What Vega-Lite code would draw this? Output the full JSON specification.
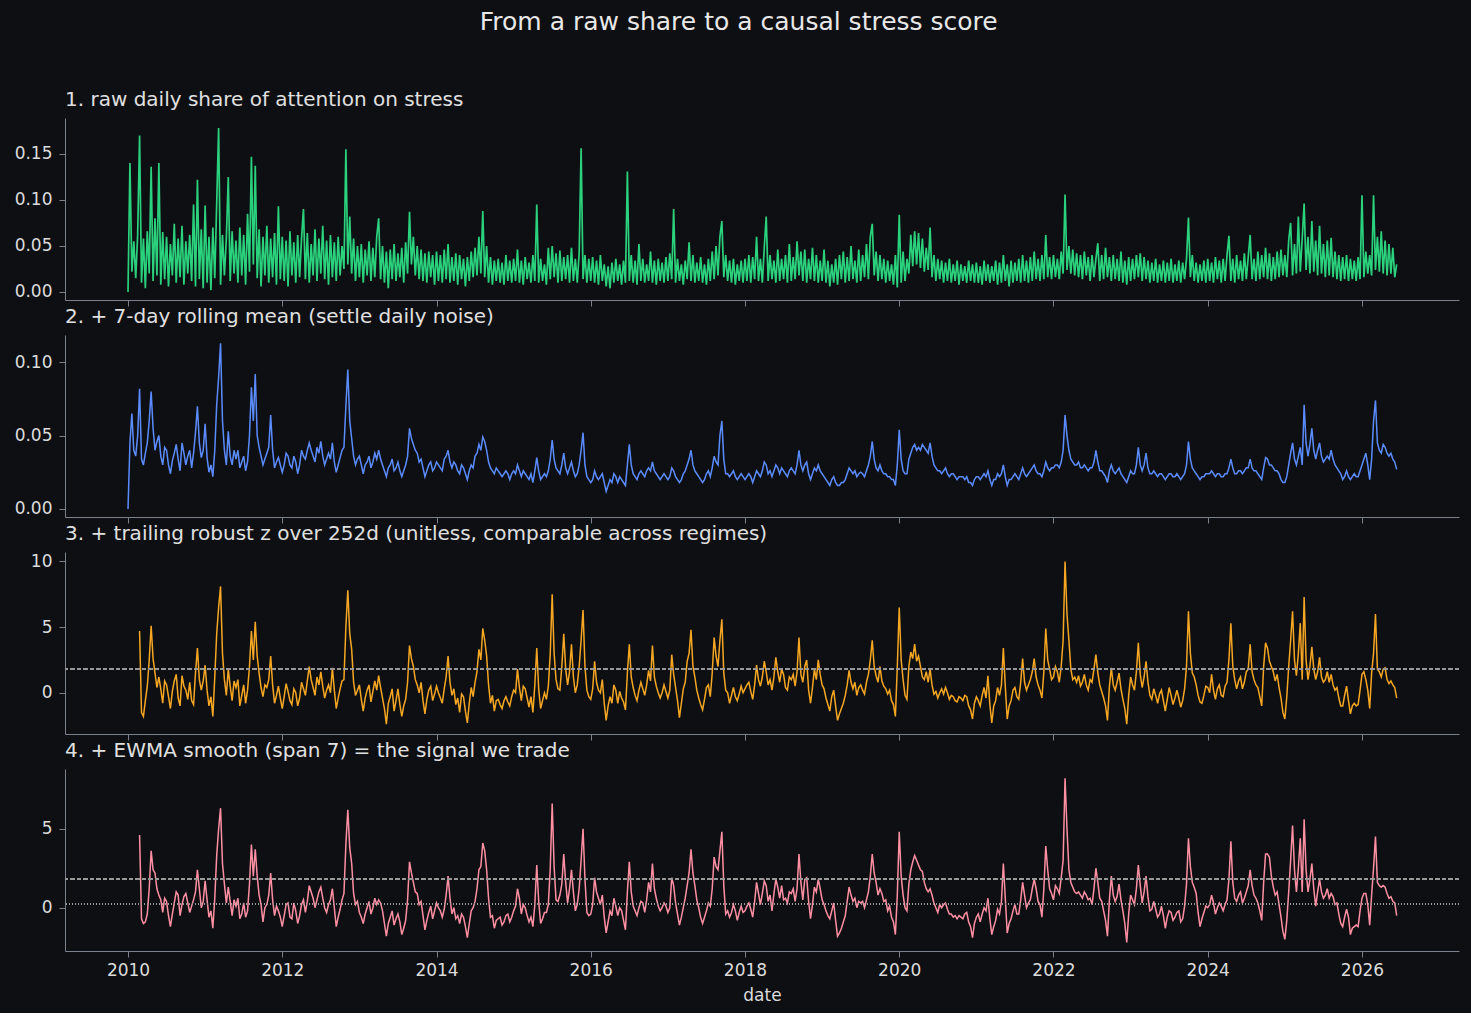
{
"$schema":"https://vega.github.io/schema/vega-lite/v6.json",
"background":"#0e0f12",
"padding":{"left":10,"right":12,"top":10,"bottom":10},
"title":{"text":"From a raw share to a causal stress score","fontSize":25,"anchor":"middle","color":"#e8e8e8","fontWeight":"normal","offset":56,"frame":"bounds","dx":4,"dy":1},
"data":{"values":"x,m,z,s\n2010,0,,\n2010.025,.045,,\n2010.05,.065,,\n2010.075,.04,,\n2010.1,.036,,\n2010.125,.05,,\n2010.15,.082,4.7,4.6\n2010.175,.034,-1.5,-.7\n2010.2,.03,-1.8,-1.0\n2010.225,.038,-.6,-.9\n2010.25,.045,.5,-.4\n2010.275,.06,2.5,1.2\n2010.3,.08,5.1,3.6\n2010.325,.055,2.6,2.4\n2010.35,.04,1.5,2.2\n2010.375,.046,.4,1.2\n2010.4,.05,1.2,.8\n2010.425,.036,.3,.5\n2010.45,.03,-.8,-.3\n2010.475,.042,.9,.6\n2010.5,.04,.6,.4\n2010.525,.03,-.3,-.5\n2010.55,.024,-1.2,-1.2\n2010.575,.033,.1,-.4\n2010.6,.038,.9,.3\n2010.625,.044,1.4,1.0\n2010.65,.034,-.4,.8\n2010.675,.026,-1.0,-.5\n2010.7,.045,1.3,.2\n2010.725,.038,.5,.7\n2010.75,.03,.2,.9\n2010.775,.036,-.5,.3\n2010.8,.04,.8,-.3\n2010.825,.028,-.6,.1\n2010.85,.038,-.9,.5\n2010.875,.052,1.5,1.0\n2010.9,.07,3.4,2.4\n2010.925,.045,1.0,1.2\n2010.95,.035,.2,0\n2010.975,.04,.9,.4\n2011,.058,2.1,1.7\n2011.025,.035,.2,.5\n2011.05,.025,-1,-.6\n2011.075,.03,-.3,-.2\n2011.1,.022,-1.8,-1.3\n2011.125,.04,1.2,.6\n2011.15,.071,4.5,3.3\n2011.175,.09,6.5,5.0\n2011.2,.113,8.1,6.3\n2011.225,.06,3.0,2.8\n2011.25,.04,1,1.5\n2011.275,.03,-.2,.3\n2011.3,.053,1.8,1.3\n2011.325,.036,.5,.4\n2011.35,.03,-.6,-.5\n2011.375,.04,.9,.5\n2011.4,.034,.4,.1\n2011.425,.04,1.0,.6\n2011.45,.028,-1,-.7\n2011.475,.032,-.2,-.4\n2011.5,.036,.6,.3\n2011.525,.026,-.8,-.6\n2011.55,.032,.2,-.2\n2011.575,.05,2.0,1.5\n2011.6,.083,4.7,4\n2011.625,.06,2.5,2.0\n2011.65,.092,5.4,3.7\n2011.675,.05,2.8,2.0\n2011.7,.042,1.5,.8\n2011.725,.036,.4,.2\n2011.75,.03,-.3,-.9\n2011.775,.034,.6,.0\n2011.8,.038,.4,.2\n2011.825,.042,1.0,.8\n2011.85,.064,2.8,2.2\n2011.875,.04,.6,.5\n2011.9,.028,-.8,-.5\n2011.925,.032,-.2,.1\n2011.95,.035,.5,-.2\n2011.975,.03,-.4,-.6\n2012,.025,-1.2,-1.2\n2012.025,.03,-.3,-.5\n2012.05,.038,.7,.2\n2012.075,.036,.1,.3\n2012.1,.03,-.6,-.6\n2012.125,.028,-.9,-.7\n2012.15,.036,.3,.3\n2012.175,.032,.0,-.2\n2012.2,.024,-1,-1\n2012.225,.03,-.4,-.5\n2012.25,.04,.8,.2\n2012.275,.036,.3,.5\n2012.3,.034,-.2,-.3\n2012.325,.04,.9,.4\n2012.35,.045,2,1.4\n2012.375,.04,1.0,1.0\n2012.4,.036,.4,.6\n2012.425,.032,-.2,.0\n2012.45,.042,1.2,.5\n2012.475,.038,.6,1.0\n2012.5,.046,1.6,1.3\n2012.525,.036,.5,.6\n2012.55,.03,-.4,0\n2012.575,.034,.2,-.3\n2012.6,.038,.6,.2\n2012.625,.034,.0,.5\n2012.65,.045,1.9,1.2\n2012.675,.032,.2,.0\n2012.7,.025,-1.2,-1.2\n2012.725,.03,-.4,-.6\n2012.75,.035,.3,-.1\n2012.775,.04,.9,.5\n2012.8,.042,1,.9\n2012.825,.07,5.0,4.0\n2012.85,.095,7.8,6.2\n2012.875,.06,4.5,3.8\n2012.9,.048,3.3,2.8\n2012.925,.036,.8,.9\n2012.95,.03,-.2,.2\n2012.975,.034,.2,.4\n2013,.036,.6,-.3\n2013.025,.03,-.5,-.6\n2013.05,.024,-1.4,-1\n2013.075,.03,-.4,-.4\n2013.1,.032,.2,0\n2013.125,.036,.6,.4\n2013.15,.028,-.7,-.4\n2013.175,.032,.1,.0\n2013.2,.038,.9,.6\n2013.225,.034,.2,.2\n2013.25,.04,1.3,.5\n2013.275,.034,.4,.3\n2013.3,.03,-.4,-.2\n2013.325,.026,-1.2,-1.0\n2013.35,.022,-2.4,-1.8\n2013.375,.028,-.8,-1.0\n2013.4,.03,-.3,-.6\n2013.425,.034,.3,-.2\n2013.45,.026,-1.4,-1.1\n2013.475,.028,-.6,-.7\n2013.5,.032,.3,-.4\n2013.525,.026,-.9,-.9\n2013.55,.022,-1.8,-1.7\n2013.575,.026,-1.0,-1.3\n2013.6,.03,-.5,-.8\n2013.625,.036,.8,.5\n2013.65,.055,3.6,2.9\n2013.675,.048,2.6,2.2\n2013.7,.044,2,1.6\n2013.725,.04,1.0,1.0\n2013.75,.038,.6,.9\n2013.775,.032,.0,.2\n2013.8,.034,.8,.4\n2013.825,.028,-.6,-.5\n2013.85,.022,-1.6,-1.4\n2013.875,.026,-.5,-.8\n2013.9,.03,.2,-.3\n2013.925,.032,.5,.1\n2013.95,.026,-.6,-.7\n2013.975,.028,-.1,-.2\n2014,.032,.5,.3\n2014.025,.03,.0,.0\n2014.05,.028,-.4,-.2\n2014.075,.026,-.8,-.6\n2014.1,.034,.3,-.1\n2014.125,.036,1.2,.8\n2014.15,.04,2.8,2\n2014.175,.032,.8,.6\n2014.2,.028,-.2,-.4\n2014.225,.032,.3,.0\n2014.25,.03,-.9,-.7\n2014.275,.026,-.4,-.5\n2014.3,.024,-1.5,-1\n2014.325,.03,-.1,-.4\n2014.35,.028,-.3,-.6\n2014.375,.024,-1.4,-1.2\n2014.4,.02,-2.3,-1.9\n2014.425,.026,-.8,-1.0\n2014.45,.03,.4,-.2\n2014.475,.028,-.3,.0\n2014.5,.036,.8,.4\n2014.525,.038,1.6,1.2\n2014.55,.044,3.3,2.4\n2014.575,.04,2.5,2.6\n2014.6,.049,4.9,4.1\n2014.625,.046,4.0,3.6\n2014.65,.04,2.8,2.4\n2014.675,.032,.6,.6\n2014.7,.028,-.8,-.6\n2014.725,.026,-.2,-.5\n2014.75,.024,-1.4,-1.3\n2014.775,.028,-.6,-.8\n2014.8,.026,-.5,-.7\n2014.825,.024,-.9,-.6\n2014.85,.022,-1.2,-1.1\n2014.875,.024,-.6,-.9\n2014.9,.026,-.3,-.5\n2014.925,.024,-.7,-.4\n2014.95,.02,-1,-.9\n2014.975,.024,-.3,-.6\n2015,.026,.2,-.2\n2015.025,.024,.0,.1\n2015.05,.03,1.8,1.2\n2015.075,.026,.4,.6\n2015.1,.022,-.6,-.4\n2015.125,.026,.5,.2\n2015.15,.024,.3,0\n2015.175,.022,-.4,-.5\n2015.2,.02,-1.1,-.9\n2015.225,.024,-.3,-.6\n2015.25,.018,-1.5,-1.2\n2015.275,.026,.6,.2\n2015.3,.035,3.4,2.7\n2015.325,.026,.3,.4\n2015.35,.02,-1.2,-1\n2015.375,.022,-.6,-.7\n2015.4,.024,0,-.3\n2015.425,.022,-.5,-.3\n2015.45,.026,.5,.2\n2015.475,.034,3.0,2.5\n2015.5,.047,7.5,6.6\n2015.525,.034,3.0,2.6\n2015.55,.028,1,.5\n2015.575,.026,.3,.4\n2015.6,.024,.2,.8\n2015.625,.03,2.0,1.5\n2015.65,.038,4.5,3.4\n2015.675,.028,1.8,1.6\n2015.7,.024,.6,.3\n2015.725,.028,1.6,1.2\n2015.75,.032,3.7,2.4\n2015.775,.026,1.2,1.0\n2015.8,.022,0,-.2\n2015.825,.024,.6,.2\n2015.85,.03,2,1.2\n2015.875,.04,4.0,3.0\n2015.9,.052,6.3,5\n2015.925,.03,2.0,1.8\n2015.95,.022,.2,-.3\n2015.975,.02,-.3,-.5\n2016,.018,-.5,-.4\n2016.025,.02,.3,.2\n2016.05,.026,2.4,1.9\n2016.075,.022,.8,1.0\n2016.1,.02,.2,.6\n2016.125,.022,.0,.2\n2016.15,.024,1,.8\n2016.175,.018,-.8,-.6\n2016.2,.012,-2.1,-1.6\n2016.225,.016,-1.0,-.9\n2016.25,.02,-.3,-.2\n2016.275,.018,-.8,-.5\n2016.3,.024,.6,.6\n2016.325,.022,.2,.1\n2016.35,.018,-.8,-.5\n2016.375,.022,.1,.0\n2016.4,.02,-.4,-.2\n2016.425,.018,-.7,-.8\n2016.45,.016,-1.3,-1.4\n2016.475,.03,1.5,1.0\n2016.5,.044,3.7,2.9\n2016.525,.03,1.2,1.0\n2016.55,.024,.4,.1\n2016.575,.022,-.2,-.2\n2016.6,.02,-.6,-.5\n2016.625,.024,.2,.0\n2016.65,.026,.8,.4\n2016.675,.024,.3,.3\n2016.7,.022,-.2,-.3\n2016.725,.026,.6,.5\n2016.75,.028,1.7,1.6\n2016.775,.026,.9,1.0\n2016.8,.032,3.6,2.8\n2016.825,.026,1.2,1.2\n2016.85,.024,.5,.6\n2016.875,.022,.0,.1\n2016.9,.02,-.4,-.2\n2016.925,.022,.0,.0\n2016.95,.024,.6,.3\n2016.975,.022,.1,.1\n2017,.02,-.4,-.3\n2017.025,.022,.2,.0\n2017.05,.028,2.9,1.9\n2017.075,.026,1.4,1.4\n2017.1,.022,.4,.3\n2017.125,.02,-.6,-.4\n2017.15,.018,-1.9,-1.1\n2017.175,.02,-.8,-.6\n2017.2,.024,.3,0\n2017.225,.026,.8,.6\n2017.25,.03,2.4,1.4\n2017.275,.034,3.0,2.2\n2017.3,.04,4.8,3.7\n2017.325,.03,2.0,2.2\n2017.35,.026,1.2,1.4\n2017.375,.024,.2,.5\n2017.4,.022,-.4,0\n2017.425,.02,-.9,-.6\n2017.45,.018,-1.3,-1\n2017.475,.02,-.5,-.6\n2017.5,.024,.4,-.2\n2017.525,.026,.6,.3\n2017.55,.022,-.3,.1\n2017.575,.028,1.5,1.2\n2017.6,.036,4.2,3.2\n2017.625,.032,2.8,2.6\n2017.65,.03,2,2.4\n2017.675,.05,4.0,3.6\n2017.7,.06,5.6,4.8\n2017.725,.034,1.5,1.4\n2017.75,.024,.2,-.4\n2017.775,.024,.0,-.2\n2017.8,.022,-.8,-.6\n2017.825,.024,-.2,-.3\n2017.85,.026,.4,.2\n2017.875,.022,-.3,-.2\n2017.9,.02,-.6,-.8\n2017.925,.022,-.1,-.3\n2017.95,.024,.5,.1\n2017.975,.022,.0,-.3\n2018,.02,.3,-.2\n2018.025,.022,.6,.1\n2018.05,.024,.8,.3\n2018.075,.022,.1,-.1\n2018.1,.018,-.5,-.6\n2018.125,.022,.6,.4\n2018.15,.026,2.1,1.6\n2018.175,.024,1.0,.9\n2018.2,.022,.5,.2\n2018.225,.026,1.2,.9\n2018.25,.032,2.4,1.7\n2018.275,.03,1.6,1.4\n2018.3,.024,.6,.4\n2018.325,.026,1.0,.8\n2018.35,.022,.2,-.2\n2018.375,.026,1.2,.9\n2018.4,.03,2.7,1.8\n2018.425,.028,1.6,1.3\n2018.45,.024,.8,.6\n2018.475,.028,1.8,1.4\n2018.5,.026,1.4,.5\n2018.525,.024,.4,.6\n2018.55,.022,.2,.3\n2018.575,.026,1.2,1.0\n2018.6,.028,1,.9\n2018.625,.026,1.4,1.2\n2018.65,.024,.5,.4\n2018.675,.03,1.6,1.2\n2018.7,.04,4.2,3.4\n2018.725,.03,1.4,1.6\n2018.75,.026,.8,.5\n2018.775,.03,2.0,1.8\n2018.8,.032,2.5,1.9\n2018.825,.024,.2,.4\n2018.85,.02,-.8,-.7\n2018.875,.024,.4,.2\n2018.9,.028,1.8,1.3\n2018.925,.026,1.0,1.0\n2018.95,.03,2.5,1.8\n2018.975,.026,1.4,1.2\n2019,.024,.6,.5\n2019.025,.022,.3,.2\n2019.05,.02,-.4,-.2\n2019.075,.018,-.9,-.5\n2019.1,.016,-1.4,-.7\n2019.125,.02,-.3,-.2\n2019.15,.022,.2,.3\n2019.175,.018,-1.0,-.8\n2019.2,.016,-2.1,-1.8\n2019.225,.016,-1.6,-1.6\n2019.25,.018,-1.2,-1.3\n2019.275,.018,-.8,-.9\n2019.3,.02,-.2,-.5\n2019.325,.024,.6,.4\n2019.35,.028,1.7,1.3\n2019.375,.026,.8,.8\n2019.4,.024,.3,.4\n2019.425,.026,.8,.6\n2019.45,.022,-.2,0\n2019.475,.024,.4,.4\n2019.5,.025,.6,.3\n2019.525,.024,.2,.4\n2019.55,.022,-.1,0\n2019.575,.026,.8,.5\n2019.6,.03,1.4,1\n2019.625,.036,2.5,2.0\n2019.65,.046,4,3.4\n2019.675,.034,2.0,2.2\n2019.7,.028,1.3,1.6\n2019.725,.026,.8,.8\n2019.75,.03,2,1.2\n2019.775,.026,.9,.9\n2019.8,.024,.5,.4\n2019.825,.024,.3,.5\n2019.85,.022,-.1,-.2\n2019.875,.022,.2,.1\n2019.9,.02,-.6,-.6\n2019.925,.02,-.9,-.9\n2019.95,.016,-1.8,-1.7\n2019.975,.03,2.0,.8\n2020,.054,6.5,4.8\n2020.025,.034,2.5,2.0\n2020.05,.026,1,.8\n2020.075,.024,-.2,.0\n2020.1,.024,-.5,-.2\n2020.125,.034,2.0,1.5\n2020.15,.038,3.1,2.4\n2020.175,.042,2.6,2.9\n2020.2,.044,3.7,3.3\n2020.225,.04,2.4,3.0\n2020.25,.042,2.8,2.7\n2020.275,.04,2.0,2.4\n2020.3,.044,1.2,2.3\n2020.325,.042,1.0,1.6\n2020.35,.04,1.6,1.2\n2020.375,.038,.8,1.0\n2020.4,.045,1.8,1.2\n2020.425,.036,.6,.8\n2020.45,.03,-.1,.3\n2020.475,.028,.1,.0\n2020.5,.026,-.4,-.3\n2020.525,.026,.0,.2\n2020.55,.024,.3,0\n2020.575,.026,-.1,.2\n2020.6,.028,.4,.3\n2020.625,.024,.0,-.1\n2020.65,.022,-.5,-.4\n2020.675,.024,-.2,-.4\n2020.7,.024,-.3,-.6\n2020.725,.022,-.6,-.5\n2020.75,.02,-.7,-.7\n2020.775,.022,-.3,-.5\n2020.8,.022,-.4,-.6\n2020.825,.022,-.6,-.7\n2020.85,.02,-.2,-.4\n2020.875,.022,-.3,-.3\n2020.9,.018,-1,-.9\n2020.925,.018,-1.3,-1.2\n2020.95,.016,-2,-1.9\n2020.975,.02,-.8,-1.0\n2021,.022,-.3,-.6\n2021.025,.022,-.6,-.4\n2021.05,.02,-1,-.9\n2021.075,.022,-.2,-.4\n2021.1,.024,.4,0\n2021.125,.022,-.4,-.2\n2021.15,.026,1.3,.6\n2021.175,.02,-.9,-.7\n2021.2,.016,-2.3,-1.7\n2021.225,.02,-1.0,-1.2\n2021.25,.02,-.6,-.8\n2021.275,.024,.4,-.1\n2021.3,.022,-.2,-.4\n2021.325,.024,.6,.4\n2021.35,.03,3.4,2.8\n2021.375,.022,.5,.6\n2021.4,.016,-2,-1.6\n2021.425,.02,-1.0,-1.0\n2021.45,.02,-.6,-.7\n2021.475,.022,.2,-.2\n2021.5,.024,.4,.2\n2021.525,.022,-.3,-.4\n2021.55,.02,-.5,-.4\n2021.575,.024,.8,.5\n2021.6,.028,2.6,1.6\n2021.625,.024,.8,.8\n2021.65,.022,.2,0\n2021.675,.024,.6,.3\n2021.7,.026,1,.5\n2021.725,.028,1.6,1.2\n2021.75,.03,2.6,1.8\n2021.775,.026,1.2,1.2\n2021.8,.024,.6,.4\n2021.825,.024,.2,.2\n2021.85,.022,-.4,-.6\n2021.875,.026,1.6,1.2\n2021.9,.032,4.9,3.9\n2021.925,.028,2.5,2.4\n2021.95,.026,1.8,1.2\n2021.975,.028,1.0,.9\n2022,.028,1.2,.5\n2022.025,.03,2.0,1.4\n2022.05,.03,1.6,1.2\n2022.075,.028,.8,.9\n2022.1,.032,2,1.9\n2022.125,.04,4.0,3.0\n2022.15,.064,10,8.2\n2022.175,.05,6.0,5.0\n2022.2,.04,4,2.4\n2022.225,.034,1.8,1.6\n2022.25,.032,1,1.3\n2022.275,.03,1.2,1.0\n2022.3,.03,.8,.9\n2022.325,.032,1.3,1.0\n2022.35,.028,.5,.8\n2022.375,.028,.8,.6\n2022.4,.03,1.4,1\n2022.425,.028,.6,.8\n2022.45,.026,.2,.5\n2022.475,.028,1.0,.6\n2022.5,.028,.8,.2\n2022.525,.032,1.8,1.2\n2022.55,.04,2.9,2.5\n2022.575,.032,1.5,1.6\n2022.6,.026,.6,.6\n2022.625,.026,.1,.4\n2022.65,.024,-.4,-.2\n2022.675,.022,-1.0,-.8\n2022.7,.018,-2.1,-1.8\n2022.725,.026,.5,.5\n2022.75,.03,1.9,2\n2022.775,.026,.6,.8\n2022.8,.024,.2,.4\n2022.825,.026,.8,.7\n2022.85,.028,1.5,1.5\n2022.875,.024,.3,.5\n2022.9,.022,-.5,-.2\n2022.925,.02,-1.2,-1.0\n2022.95,.018,-2.4,-2.2\n2022.975,.022,-.2,-.4\n2023,.026,1.2,.8\n2023.025,.024,.6,.5\n2023.05,.024,.2,.2\n2023.075,.03,1.6,1.2\n2023.1,.042,3.8,2.7\n2023.125,.03,1.4,1.4\n2023.15,.026,.4,.3\n2023.175,.03,1.2,1.0\n2023.2,.038,2.4,2\n2023.225,.028,.8,.7\n2023.25,.024,-.2,-.2\n2023.275,.024,-.5,-.1\n2023.3,.026,.3,.4\n2023.325,.024,-.2,-.1\n2023.35,.022,-.8,-.6\n2023.375,.024,-.1,-.4\n2023.4,.024,.2,.1\n2023.425,.022,-.6,-.5\n2023.45,.02,-1.4,-1.3\n2023.475,.022,-.5,-.6\n2023.5,.024,.4,-.2\n2023.525,.024,-.2,-.3\n2023.55,.022,-.9,-.8\n2023.575,.022,-.4,-.6\n2023.6,.024,.2,-.3\n2023.625,.022,-.4,-.2\n2023.65,.02,-1.1,-.9\n2023.675,.022,-.6,-.7\n2023.7,.024,.3,.1\n2023.725,.03,2.0,1.5\n2023.75,.046,6.2,4.4\n2023.775,.034,3.0,2.6\n2023.8,.028,1.5,1.6\n2023.825,.026,1.2,1.3\n2023.85,.024,.6,.9\n2023.875,.022,-.2,-.3\n2023.9,.02,-.7,-1.2\n2023.925,.022,-.8,-.7\n2023.95,.022,-.2,-.3\n2023.975,.024,.5,.1\n2024,.024,.4,0\n2024.025,.024,.0,.2\n2024.05,.026,1.4,.8\n2024.075,.024,.2,.3\n2024.1,.022,-.5,-.4\n2024.125,.024,.3,.0\n2024.15,.024,.6,.3\n2024.175,.022,-.2,.1\n2024.2,.022,-.3,-.2\n2024.225,.024,.5,.2\n2024.25,.024,.8,.5\n2024.275,.028,2.5,1.8\n2024.3,.034,5.3,4.2\n2024.325,.028,2.0,1.6\n2024.35,.024,1,.6\n2024.375,.024,.3,.4\n2024.4,.026,.9,.8\n2024.425,.026,1.2,1.0\n2024.45,.024,.3,.3\n2024.475,.026,.8,.6\n2024.5,.028,1.6,1\n2024.525,.028,1.8,1.4\n2024.55,.034,3.7,2.4\n2024.575,.028,1.6,1.4\n2024.6,.026,1,.8\n2024.625,.026,.6,.6\n2024.65,.024,.4,.3\n2024.675,.022,-.3,-.2\n2024.7,.02,-1,-.8\n2024.725,.028,2.0,1.6\n2024.75,.035,3.8,3.4\n2024.775,.034,3.4,3.4\n2024.8,.03,2.4,3.2\n2024.825,.03,2.0,2.0\n2024.85,.028,1.6,1.3\n2024.875,.026,.9,.8\n2024.9,.026,1.4,1\n2024.925,.024,.4,.2\n2024.95,.02,-.4,-.6\n2024.975,.018,-1.5,-1.5\n2025,.018,-2,-2\n2025.025,.022,-.3,-.8\n2025.05,.03,2,1\n2025.075,.038,4.0,3.0\n2025.1,.045,6.2,5.2\n2025.125,.034,2.5,2.4\n2025.15,.03,1.3,1\n2025.175,.036,3.0,2.5\n2025.2,.042,5.3,4.4\n2025.225,.03,1,1\n2025.25,.071,7.3,5.6\n2025.275,.045,2.5,2.4\n2025.3,.036,1,1\n2025.325,.044,2.0,1.8\n2025.35,.055,3.5,2.8\n2025.375,.04,1.8,1.2\n2025.4,.034,1,.1\n2025.425,.04,1.6,1.0\n2025.45,.045,2.7,1.8\n2025.475,.036,1.2,1.0\n2025.5,.032,.8,.6\n2025.525,.034,1.0,.8\n2025.55,.036,1.6,1.2\n2025.575,.034,.8,.6\n2025.6,.04,1.4,.9\n2025.625,.034,.6,.7\n2025.65,.03,.2,.2\n2025.675,.028,.4,.3\n2025.7,.026,-.4,-.4\n2025.725,.024,-1.0,-1.0\n2025.75,.02,-1,-1.2\n2025.775,.022,-.2,-.6\n2025.8,.026,.5,-.1\n2025.825,.022,-.6,-.6\n2025.85,.02,-1.6,-1.7\n2025.875,.022,-1.0,-1.3\n2025.9,.024,-.8,-1.2\n2025.925,.022,-1.0,-1.1\n2025.95,.022,-.9,-1.2\n2025.975,.026,.2,-.2\n2026,.03,1.4,.6\n2026.025,.034,1.6,.9\n2026.05,.038,1,.9\n2026.075,.03,.2,.2\n2026.1,.02,-1.2,-1.1\n2026.125,.034,1.5,.8\n2026.15,.06,3,2.5\n2026.175,.074,6,4.5\n2026.2,.045,1.8,1.6\n2026.225,.04,1.6,1.4\n2026.25,.038,1.2,1.3\n2026.275,.044,1.8,1.4\n2026.3,.042,1.9,1.3\n2026.325,.038,1.0,.9\n2026.35,.036,.7,.6\n2026.375,.038,.9,.7\n2026.4,.034,.6,.4\n2026.425,.032,.4,.3\n2026.45,.027,-.4,-.5","format":{"type":"csv","parse":{"x":"number","m":"number","z":"number","s":"number"}}},
"spacing":0,
"vconcat":[
{"title":"1. raw daily share of attention on stress","width":1394,"height":182,
"data":{"values":"x,v\n2010,0\n2010.025,.14\n2010.05,.022\n2010.075,.055\n2010.1,.015\n2010.125,.062\n2010.15,.17\n2010.175,.01\n2010.2,.058\n2010.225,.004\n2010.25,.066\n2010.275,.02\n2010.3,.136\n2010.325,.012\n2010.35,.08\n2010.375,.018\n2010.4,.14\n2010.425,.008\n2010.45,.065\n2010.475,.014\n2010.5,.06\n2010.525,.006\n2010.55,.052\n2010.575,.018\n2010.6,.074\n2010.625,.01\n2010.65,.058\n2010.675,.016\n2010.7,.072\n2010.725,.008\n2010.75,.055\n2010.775,.02\n2010.8,.062\n2010.825,.012\n2010.85,.095\n2010.875,.006\n2010.9,.122\n2010.925,.014\n2010.95,.068\n2010.975,.004\n2011,.094\n2011.025,.01\n2011.05,.06\n2011.075,.002\n2011.1,.07\n2011.125,.015\n2011.15,.096\n2011.175,.178\n2011.2,.008\n2011.225,.062\n2011.25,.018\n2011.275,.058\n2011.3,.125\n2011.325,.012\n2011.35,.066\n2011.375,.02\n2011.4,.056\n2011.425,.01\n2011.45,.07\n2011.475,.018\n2011.5,.062\n2011.525,.008\n2011.55,.085\n2011.575,.022\n2011.6,.147\n2011.625,.03\n2011.65,.137\n2011.675,.015\n2011.7,.068\n2011.725,.006\n2011.75,.06\n2011.775,.018\n2011.8,.072\n2011.825,.01\n2011.85,.058\n2011.875,.016\n2011.9,.064\n2011.925,.008\n2011.95,.093\n2011.975,.014\n2012,.06\n2012.025,.012\n2012.05,.056\n2012.075,.006\n2012.1,.066\n2012.125,.018\n2012.15,.054\n2012.175,.01\n2012.2,.062\n2012.225,.016\n2012.25,.058\n2012.275,.09\n2012.3,.014\n2012.325,.064\n2012.35,.01\n2012.375,.052\n2012.4,.018\n2012.425,.068\n2012.45,.012\n2012.475,.058\n2012.5,.02\n2012.525,.072\n2012.55,.014\n2012.575,.056\n2012.6,.008\n2012.625,.062\n2012.65,.016\n2012.675,.054\n2012.7,.012\n2012.725,.06\n2012.75,.018\n2012.775,.05\n2012.8,.025\n2012.825,.155\n2012.85,.03\n2012.875,.082\n2012.9,.02\n2012.925,.058\n2012.95,.012\n2012.975,.05\n2013,.016\n2013.025,.052\n2013.05,.01\n2013.075,.046\n2013.1,.018\n2013.125,.055\n2013.15,.012\n2013.175,.048\n2013.2,.016\n2013.225,.06\n2013.25,.08\n2013.275,.014\n2013.3,.05\n2013.325,.01\n2013.35,.044\n2013.375,.004\n2013.4,.046\n2013.425,.014\n2013.45,.052\n2013.475,.012\n2013.5,.042\n2013.525,.016\n2013.55,.048\n2013.575,.01\n2013.6,.054\n2013.625,.02\n2013.65,.087\n2013.675,.03\n2013.7,.06\n2013.725,.018\n2013.75,.05\n2013.775,.014\n2013.8,.046\n2013.825,.012\n2013.85,.042\n2013.875,.01\n2013.9,.044\n2013.925,.016\n2013.95,.04\n2013.975,.008\n2014,.044\n2014.025,.012\n2014.05,.04\n2014.075,.01\n2014.1,.046\n2014.125,.014\n2014.15,.052\n2014.175,.01\n2014.2,.038\n2014.225,.012\n2014.25,.042\n2014.275,.008\n2014.3,.04\n2014.325,.014\n2014.35,.036\n2014.375,.006\n2014.4,.038\n2014.425,.012\n2014.45,.044\n2014.475,.016\n2014.5,.048\n2014.525,.018\n2014.55,.06\n2014.575,.02\n2014.6,.088\n2014.625,.016\n2014.65,.05\n2014.675,.01\n2014.7,.038\n2014.725,.008\n2014.75,.034\n2014.775,.012\n2014.8,.036\n2014.825,.01\n2014.85,.032\n2014.875,.008\n2014.9,.04\n2014.925,.012\n2014.95,.034\n2014.975,.01\n2015,.036\n2015.025,.012\n2015.05,.046\n2015.075,.01\n2015.1,.034\n2015.125,.008\n2015.15,.038\n2015.175,.014\n2015.2,.032\n2015.225,.01\n2015.25,.04\n2015.275,.012\n2015.3,.095\n2015.325,.01\n2015.35,.036\n2015.375,.012\n2015.4,.03\n2015.425,.008\n2015.45,.048\n2015.475,.014\n2015.5,.05\n2015.525,.016\n2015.55,.042\n2015.575,.01\n2015.6,.045\n2015.625,.012\n2015.65,.038\n2015.675,.014\n2015.7,.04\n2015.725,.01\n2015.75,.048\n2015.775,.012\n2015.8,.036\n2015.825,.01\n2015.85,.042\n2015.875,.156\n2015.9,.014\n2015.925,.04\n2015.95,.01\n2015.975,.036\n2016,.012\n2016.025,.038\n2016.05,.01\n2016.075,.034\n2016.1,.008\n2016.125,.04\n2016.15,.012\n2016.175,.03\n2016.2,.006\n2016.225,.028\n2016.25,.004\n2016.275,.032\n2016.3,.01\n2016.325,.036\n2016.35,.012\n2016.375,.03\n2016.4,.008\n2016.425,.034\n2016.45,.01\n2016.475,.131\n2016.5,.012\n2016.525,.04\n2016.55,.01\n2016.575,.034\n2016.6,.008\n2016.625,.052\n2016.65,.012\n2016.675,.036\n2016.7,.01\n2016.725,.03\n2016.75,.012\n2016.775,.044\n2016.8,.01\n2016.825,.034\n2016.85,.008\n2016.875,.036\n2016.9,.012\n2016.925,.032\n2016.95,.01\n2016.975,.038\n2017,.012\n2017.025,.042\n2017.05,.014\n2017.075,.09\n2017.1,.01\n2017.125,.036\n2017.15,.012\n2017.175,.03\n2017.2,.008\n2017.225,.034\n2017.25,.014\n2017.275,.054\n2017.3,.012\n2017.325,.04\n2017.35,.01\n2017.375,.032\n2017.4,.012\n2017.425,.038\n2017.45,.01\n2017.475,.03\n2017.5,.008\n2017.525,.036\n2017.55,.012\n2017.575,.044\n2017.6,.014\n2017.625,.05\n2017.65,.018\n2017.675,.06\n2017.7,.077\n2017.725,.016\n2017.75,.04\n2017.775,.012\n2017.8,.034\n2017.825,.01\n2017.85,.036\n2017.875,.008\n2017.9,.03\n2017.925,.012\n2017.95,.034\n2017.975,.01\n2018,.036\n2018.025,.012\n2018.05,.04\n2018.075,.01\n2018.1,.038\n2018.125,.014\n2018.15,.06\n2018.175,.012\n2018.2,.036\n2018.225,.01\n2018.25,.048\n2018.275,.082\n2018.3,.012\n2018.325,.04\n2018.35,.014\n2018.375,.034\n2018.4,.01\n2018.425,.046\n2018.45,.012\n2018.475,.036\n2018.5,.014\n2018.525,.04\n2018.55,.01\n2018.575,.052\n2018.6,.012\n2018.625,.038\n2018.65,.014\n2018.675,.055\n2018.7,.018\n2018.725,.044\n2018.75,.012\n2018.775,.046\n2018.8,.01\n2018.825,.036\n2018.85,.014\n2018.875,.048\n2018.9,.012\n2018.925,.04\n2018.95,.01\n2018.975,.034\n2019,.012\n2019.025,.046\n2019.05,.01\n2019.075,.034\n2019.1,.006\n2019.125,.03\n2019.15,.01\n2019.175,.036\n2019.2,.008\n2019.225,.04\n2019.25,.014\n2019.275,.044\n2019.3,.01\n2019.325,.038\n2019.35,.012\n2019.375,.05\n2019.4,.014\n2019.425,.034\n2019.45,.01\n2019.475,.046\n2019.5,.012\n2019.525,.04\n2019.55,.016\n2019.575,.052\n2019.6,.014\n2019.625,.06\n2019.65,.074\n2019.675,.018\n2019.7,.044\n2019.725,.012\n2019.75,.04\n2019.775,.014\n2019.8,.036\n2019.825,.01\n2019.85,.034\n2019.875,.012\n2019.9,.03\n2019.925,.008\n2019.95,.04\n2019.975,.005\n2020,.084\n2020.025,.01\n2020.05,.044\n2020.075,.012\n2020.1,.036\n2020.125,.02\n2020.15,.062\n2020.175,.028\n2020.2,.066\n2020.225,.03\n2020.25,.064\n2020.275,.026\n2020.3,.058\n2020.325,.022\n2020.35,.048\n2020.375,.024\n2020.4,.07\n2020.425,.016\n2020.45,.04\n2020.475,.012\n2020.5,.036\n2020.525,.014\n2020.55,.034\n2020.575,.01\n2020.6,.032\n2020.625,.012\n2020.65,.036\n2020.675,.01\n2020.7,.03\n2020.725,.012\n2020.75,.034\n2020.775,.008\n2020.8,.03\n2020.825,.012\n2020.85,.028\n2020.875,.01\n2020.9,.034\n2020.925,.012\n2020.95,.03\n2020.975,.01\n2021,.032\n2021.025,.01\n2021.05,.028\n2021.075,.008\n2021.1,.034\n2021.125,.012\n2021.15,.03\n2021.175,.01\n2021.2,.028\n2021.225,.012\n2021.25,.034\n2021.275,.008\n2021.3,.032\n2021.325,.01\n2021.35,.04\n2021.375,.012\n2021.4,.03\n2021.425,.006\n2021.45,.034\n2021.475,.01\n2021.5,.032\n2021.525,.012\n2021.55,.036\n2021.575,.01\n2021.6,.04\n2021.625,.012\n2021.65,.034\n2021.675,.01\n2021.7,.038\n2021.725,.012\n2021.75,.044\n2021.775,.014\n2021.8,.036\n2021.825,.012\n2021.85,.04\n2021.875,.014\n2021.9,.062\n2021.925,.016\n2021.95,.038\n2021.975,.014\n2022,.04\n2022.025,.016\n2022.05,.036\n2022.075,.014\n2022.1,.044\n2022.125,.02\n2022.15,.106\n2022.175,.024\n2022.2,.05\n2022.225,.02\n2022.25,.046\n2022.275,.018\n2022.3,.042\n2022.325,.016\n2022.35,.04\n2022.375,.014\n2022.4,.044\n2022.425,.018\n2022.45,.038\n2022.475,.012\n2022.5,.04\n2022.525,.016\n2022.55,.036\n2022.575,.053\n2022.6,.012\n2022.625,.04\n2022.65,.014\n2022.675,.048\n2022.7,.016\n2022.725,.038\n2022.75,.012\n2022.775,.04\n2022.8,.014\n2022.825,.036\n2022.85,.012\n2022.875,.044\n2022.9,.01\n2022.925,.034\n2022.95,.008\n2022.975,.038\n2023,.012\n2023.025,.036\n2023.05,.014\n2023.075,.04\n2023.1,.016\n2023.125,.042\n2023.15,.012\n2023.175,.038\n2023.2,.014\n2023.225,.034\n2023.25,.01\n2023.275,.032\n2023.3,.012\n2023.325,.036\n2023.35,.01\n2023.375,.03\n2023.4,.012\n2023.425,.034\n2023.45,.01\n2023.475,.032\n2023.5,.012\n2023.525,.036\n2023.55,.01\n2023.575,.03\n2023.6,.012\n2023.625,.034\n2023.65,.01\n2023.675,.032\n2023.7,.014\n2023.725,.036\n2023.75,.081\n2023.775,.016\n2023.8,.04\n2023.825,.012\n2023.85,.032\n2023.875,.01\n2023.9,.03\n2023.925,.012\n2023.95,.034\n2023.975,.01\n2024,.036\n2024.025,.012\n2024.05,.032\n2024.075,.01\n2024.1,.038\n2024.125,.014\n2024.15,.034\n2024.175,.01\n2024.2,.036\n2024.225,.012\n2024.25,.04\n2024.275,.061\n2024.3,.012\n2024.325,.036\n2024.35,.01\n2024.375,.04\n2024.4,.014\n2024.425,.034\n2024.45,.012\n2024.475,.042\n2024.5,.014\n2024.525,.038\n2024.55,.062\n2024.575,.014\n2024.6,.036\n2024.625,.012\n2024.65,.044\n2024.675,.014\n2024.7,.04\n2024.725,.016\n2024.75,.048\n2024.775,.014\n2024.8,.042\n2024.825,.012\n2024.85,.038\n2024.875,.014\n2024.9,.044\n2024.925,.016\n2024.95,.046\n2024.975,.018\n2025,.04\n2025.025,.016\n2025.05,.056\n2025.075,.075\n2025.1,.018\n2025.125,.052\n2025.15,.02\n2025.175,.082\n2025.2,.022\n2025.225,.058\n2025.25,.096\n2025.275,.024\n2025.3,.06\n2025.325,.02\n2025.35,.077\n2025.375,.022\n2025.4,.056\n2025.425,.018\n2025.45,.072\n2025.475,.02\n2025.5,.052\n2025.525,.016\n2025.55,.056\n2025.575,.018\n2025.6,.059\n2025.625,.016\n2025.65,.044\n2025.675,.014\n2025.7,.04\n2025.725,.012\n2025.75,.038\n2025.775,.014\n2025.8,.04\n2025.825,.012\n2025.85,.036\n2025.875,.014\n2025.9,.034\n2025.925,.012\n2025.95,.038\n2025.975,.014\n2026,.105\n2026.025,.016\n2026.05,.044\n2026.075,.02\n2026.1,.04\n2026.125,.018\n2026.15,.105\n2026.175,.024\n2026.2,.06\n2026.225,.022\n2026.25,.066\n2026.275,.02\n2026.3,.056\n2026.325,.018\n2026.35,.052\n2026.375,.02\n2026.4,.048\n2026.425,.016\n2026.45,.03","format":{"type":"csv","parse":{"x":"number","v":"number"}}},
"mark":{"type":"line","color":"#2bd27d","strokeWidth":1.7},
"encoding":{
"x":{"field":"x","type":"quantitative","scale":{"domain":[2009.183,2027.258],"nice":false,"zero":false},"axis":{"values":[2010,2012,2014,2016,2018,2020,2022,2024,2026],"labels":false,"title":null}},
"y":{"field":"v","type":"quantitative","scale":{"domain":[-0.0087,0.189],"nice":false,"zero":false},"axis":{"values":[0,0.05,0.1,0.15],"format":".2f","title":null}}}},
{"title":"2. + 7-day rolling mean (settle daily noise)","width":1394,"height":182,
"mark":{"type":"line","color":"#5b8cff","strokeWidth":1.5},
"encoding":{
"x":{"field":"x","type":"quantitative","scale":{"domain":[2009.183,2027.258],"nice":false,"zero":false},"axis":{"values":[2010,2012,2014,2016,2018,2020,2022,2024,2026],"labels":false,"title":null}},
"y":{"field":"m","type":"quantitative","scale":{"domain":[-0.0055,0.1186],"nice":false,"zero":false},"axis":{"values":[0,0.05,0.1],"format":".2f","title":null}}}},
{"title":"3. + trailing robust z over 252d (unitless, comparable across regimes)","width":1394,"height":182,
"layer":[
{"mark":{"type":"line","color":"#f5a623","strokeWidth":1.5},
"encoding":{
"x":{"field":"x","type":"quantitative","scale":{"domain":[2009.183,2027.258],"nice":false,"zero":false},"axis":{"values":[2010,2012,2014,2016,2018,2020,2022,2024,2026],"labels":false,"title":null}},
"y":{"field":"z","type":"quantitative","scale":{"domain":[-3.14,10.72],"nice":false,"zero":false},"axis":{"values":[0,5,10],"format":"d","title":null}}}},
{"mark":{"type":"rule","color":"#9a9a9a","strokeWidth":1,"strokeDash":[4,2.5]},"encoding":{"y":{"datum":1.8}}}
]},
{"title":"4. + EWMA smooth (span 7) = the signal we trade","width":1394,"height":182,
"layer":[
{"mark":{"type":"line","color":"#ff8fa3","strokeWidth":1.5},
"encoding":{
"x":{"field":"x","type":"quantitative","scale":{"domain":[2009.183,2027.258],"nice":false,"zero":false},"axis":{"values":[2010,2012,2014,2016,2018,2020,2022,2024,2026],"format":"d","title":"date"}},
"y":{"field":"s","type":"quantitative","scale":{"domain":[-2.74,8.78],"nice":false,"zero":false},"axis":{"values":[0,5],"format":"d","title":null}}}},
{"mark":{"type":"rule","color":"#9a9a9a","strokeWidth":1,"strokeDash":[4,2.5]},"encoding":{"y":{"datum":1.8}}},
{"mark":{"type":"rule","color":"#9a9a9a","strokeWidth":1,"strokeDash":[1,2]},"encoding":{"y":{"datum":0.25}}}
]}
],
"config":{
"font":"DejaVu Sans",
"view":{"stroke":null},
"axis":{"domainColor":"#7a808c","tickColor":"#7a808c","labelColor":"#dcdcdc","labelFontSize":17,"tickSize":6,"grid":false,"titleFontSize":17,"titleColor":"#dcdcdc","titleFontWeight":"normal","domainWidth":1,"tickWidth":1},
"axisY":{"minExtent":55,"maxExtent":55,"labelPadding":7},
"axisX":{"labelPadding":5,"titlePadding":9},
"title":{"fontSize":20,"fontWeight":"normal","color":"#e0e0e0","anchor":"start","offset":8,"frame":"group"}
}
}
